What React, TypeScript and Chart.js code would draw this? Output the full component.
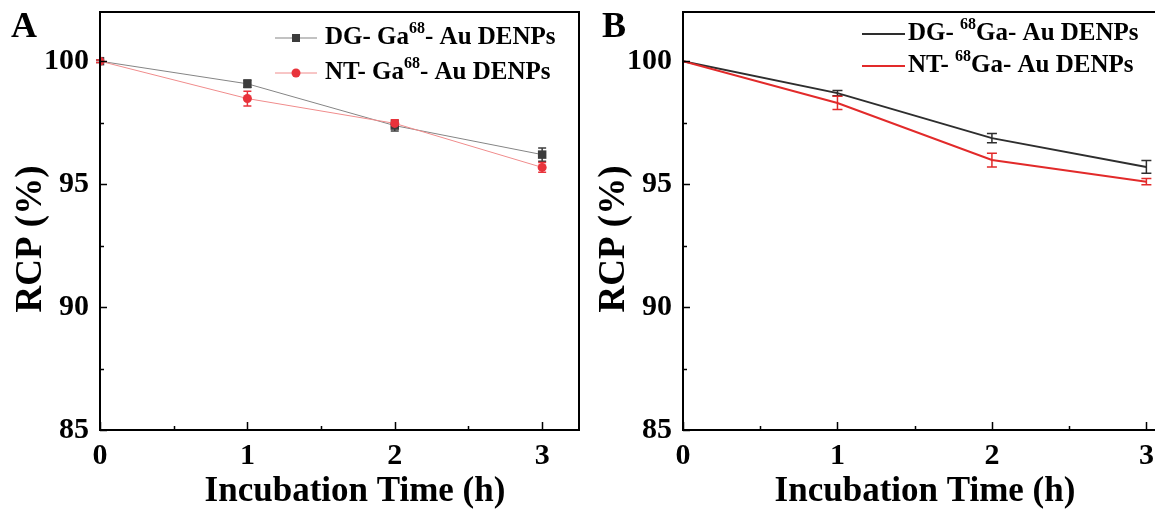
import React, { useEffect, useRef } from "react";
import { Chart, registerables } from "chart.js";

Chart.register(...registerables);

// ---------- data ----------
const times = [0, 1, 2, 3];
const xTickValues = [0, 1, 2, 3];
const xMinorValues = [0.5, 1.5, 2.5];
const yTickValues = [85, 90, 95, 100];
const yMinorValues = [87.5, 92.5, 97.5];

const aDG = [100, 99.08, 97.38, 96.2];
const aDGErr = [0.05, 0.15, 0.22, 0.27];
const aNT = [100, 98.48, 97.47, 95.68];
const aNTErr = [0.05, 0.3, 0.15, 0.2];

const bDG = [100, 98.7, 96.87, 95.7];
const bDGErr = [0, 0.11, 0.19, 0.26];
const bNT = [100, 98.3, 95.98, 95.1];
const bNTErr = [0, 0.27, 0.28, 0.13];

const xTitle = "Incubation Time (h)";
const yTitle = "RCP (%)";

type Seg = { t: string; sup?: boolean };
const legendA: Seg[][] = [
  [{ t: "DG- Ga" }, { t: "68", sup: true }, { t: "- Au DENPs" }],
  [{ t: "NT- Ga" }, { t: "68", sup: true }, { t: "- Au DENPs" }],
];
const legendB: Seg[][] = [
  [{ t: "DG- " }, { t: "68", sup: true }, { t: "Ga- Au DENPs" }],
  [{ t: "NT- " }, { t: "68", sup: true }, { t: "Ga- Au DENPs" }],
];

const FONT = '"Liberation Serif", "Times New Roman", serif';

type Panel = {
  letter: string;
  letterX: number;
  canvasLeft: number;
  canvasWidth: number;
  yWidth: number;
  padRight: number;
  markers: boolean;
  dg: number[];
  dgErr: number[];
  nt: number[];
  ntErr: number[];
  dgLine: string;
  dgPoint: string;
  ntLine: string;
  ntPoint: string;
  lineWidth: number;
  legend: Seg[][];
  legendLine: [number, number];
  legendTextX: number;
  legendRows: number[];
  capHalf: number;
  xTitleCenter: number;
  yTitleX: number;
};

const panels: Panel[] = [
  {
    letter: "A",
    letterX: 11,
    canvasLeft: 0,
    canvasWidth: 587,
    yWidth: 100,
    padRight: 8,
    markers: true,
    dg: aDG,
    dgErr: aDGErr,
    nt: aNT,
    ntErr: aNTErr,
    dgLine: "#858585",
    dgPoint: "#3c3c3c",
    ntLine: "#f08c8c",
    ntPoint: "#e8333b",
    lineWidth: 1,
    legend: legendA,
    legendLine: [275, 317],
    legendTextX: 325,
    legendRows: [38, 73],
    capHalf: 4,
    xTitleCenter: 355,
    yTitleX: 31,
  },
  {
    letter: "B",
    letterX: 22,
    canvasLeft: 580,
    canvasWidth: 613,
    yWidth: 103,
    padRight: 8,
    markers: false,
    dg: bDG,
    dgErr: bDGErr,
    nt: bNT,
    ntErr: bNTErr,
    dgLine: "#2e2e2e",
    dgPoint: "#2e2e2e",
    ntLine: "#e22a2a",
    ntPoint: "#e22a2a",
    lineWidth: 2,
    legend: legendB,
    legendLine: [282, 325],
    legendTextX: 328,
    legendRows: [34, 66],
    capHalf: 5,
    xTitleCenter: 345,
    yTitleX: 34,
  },
];

function PanelChart({ p }: { p: Panel }) {
  const ref = useRef<HTMLCanvasElement | null>(null);

  useEffect(() => {
    const canvas = ref.current;
    if (!canvas) return;

    const errorBars = {
      id: "errorBars",
      beforeDatasetsDraw(chart: any) {
        const ctx = chart.ctx;
        const xs = chart.scales.x;
        const ys = chart.scales.y;
        const sets = [
          { v: p.dg, e: p.dgErr, c: p.dgPoint },
          { v: p.nt, e: p.ntErr, c: p.ntPoint },
        ];
        ctx.save();
        ctx.lineWidth = 1.5;
        sets.forEach((s) => {
          ctx.strokeStyle = s.c;
          s.v.forEach((val, i) => {
            if (!s.e[i]) return;
            const x = xs.getPixelForValue(times[i]);
            const yt = ys.getPixelForValue(val + s.e[i]);
            const yb = ys.getPixelForValue(val - s.e[i]);
            ctx.beginPath();
            ctx.moveTo(x, yt);
            ctx.lineTo(x, yb);
            ctx.moveTo(x - p.capHalf, yt);
            ctx.lineTo(x + p.capHalf, yt);
            ctx.moveTo(x - p.capHalf, yb);
            ctx.lineTo(x + p.capHalf, yb);
            ctx.stroke();
          });
        });
        ctx.restore();
      },
    };

    const frame = {
      id: "frame",
      afterDraw(chart: any) {
        const ctx = chart.ctx;
        const a = chart.chartArea;
        const xs = chart.scales.x;
        const ys = chart.scales.y;
        ctx.save();
        ctx.strokeStyle = "#000";
        ctx.lineWidth = 2;
        ctx.strokeRect(a.left, a.top, a.right - a.left, a.bottom - a.top);
        ctx.lineWidth = 1.5;
        ctx.beginPath();
        xTickValues.forEach((v) => {
          const x = Math.round(xs.getPixelForValue(v)) + 0.5;
          ctx.moveTo(x, a.bottom);
          ctx.lineTo(x, a.bottom - 8);
        });
        xMinorValues.forEach((v) => {
          const x = Math.round(xs.getPixelForValue(v)) + 0.5;
          ctx.moveTo(x, a.bottom);
          ctx.lineTo(x, a.bottom - 4);
        });
        yTickValues.forEach((v) => {
          const y = Math.round(ys.getPixelForValue(v)) + 0.5;
          ctx.moveTo(a.left, y);
          ctx.lineTo(a.left + 7, y);
        });
        yMinorValues.forEach((v) => {
          const y = Math.round(ys.getPixelForValue(v)) + 0.5;
          ctx.moveTo(a.left, y);
          ctx.lineTo(a.left + 4, y);
        });
        ctx.stroke();

        ctx.fillStyle = "#000";
        // axis titles
        ctx.font = `bold 35px ${FONT}`;
        ctx.textAlign = "center";
        ctx.textBaseline = "alphabetic";
        ctx.fillText(xTitle, p.xTitleCenter, 501);
        ctx.save();
        ctx.translate(p.yTitleX, 239);
        ctx.rotate(-Math.PI / 2);
        ctx.font = `bold 37px ${FONT}`;
        ctx.textBaseline = "middle";
        ctx.fillText(yTitle, 0, 0);
        ctx.restore();

        // panel letter
        ctx.font = `bold 36px ${FONT}`;
        ctx.textBaseline = "alphabetic";
        ctx.textAlign = "left";
        ctx.fillText(p.letter, p.letterX, 37);

        // legend
        p.legend.forEach((segs, r) => {
          const y = p.legendRows[r];
          const color = r === 0 ? p.dgLine : p.ntLine;
          const pc = r === 0 ? p.dgPoint : p.ntPoint;
          ctx.strokeStyle = color;
          ctx.lineWidth = p.lineWidth;
          ctx.beginPath();
          ctx.moveTo(p.legendLine[0], y);
          ctx.lineTo(p.legendLine[1], y);
          ctx.stroke();
          if (p.markers) {
            const cx = (p.legendLine[0] + p.legendLine[1]) / 2;
            ctx.fillStyle = pc;
            if (r === 0) {
              ctx.fillRect(cx - 4, y - 4, 8, 8);
            } else {
              ctx.beginPath();
              ctx.arc(cx, y, 4.5, 0, Math.PI * 2);
              ctx.fill();
            }
          }
          let x = p.legendTextX;
          ctx.fillStyle = "#000";
          ctx.textBaseline = "middle";
          segs.forEach((s) => {
            if (s.sup) {
              ctx.font = `bold 16px ${FONT}`;
              ctx.fillText(s.t, x, y - 9);
            } else {
              ctx.font = `bold 25px ${FONT}`;
              ctx.fillText(s.t, x, y);
            }
            x += ctx.measureText(s.t).width;
          });
        });
        ctx.restore();
      },
    };

    const toPts = (arr: number[]) => arr.map((v, i) => ({ x: times[i], y: v }));

    const chart = new Chart(canvas, {
      type: "line",
      data: {
        datasets: [
          {
            label: "DG",
            data: toPts(p.dg),
            borderColor: p.dgLine,
            borderWidth: p.lineWidth,
            pointStyle: "rect",
            pointRadius: p.markers ? 6 : 0,
            pointBackgroundColor: p.dgPoint,
            pointBorderColor: p.dgPoint,
            pointBorderWidth: 0,
            tension: 0,
            order: 1,
          },
          {
            label: "NT",
            data: toPts(p.nt),
            borderColor: p.ntLine,
            borderWidth: p.lineWidth,
            pointStyle: "circle",
            pointRadius: p.markers ? 4.5 : 0,
            pointBackgroundColor: p.ntPoint,
            pointBorderColor: p.ntPoint,
            pointBorderWidth: 0,
            tension: 0,
            order: 0,
          },
        ],
      },
      options: {
        responsive: false,
        animation: false,
        devicePixelRatio: 1,
        layout: { padding: { top: 12, right: p.padRight, left: 0, bottom: 0 } },
        plugins: {
          legend: { display: false },
          tooltip: { enabled: false },
        },
        scales: {
          x: {
            type: "linear",
            min: 0,
            max: 3.25,
            afterBuildTicks: (s: any) => {
              s.ticks = xTickValues.map((v) => ({ value: v }));
            },
            afterFit: (s: any) => {
              s.height = 80;
              s.paddingLeft = 0;
              s.paddingRight = 0;
            },
            grid: { display: false, drawTicks: false },
            border: { display: false },
            ticks: {
              color: "#000",
              padding: 8,
              font: { family: FONT, size: 30, weight: "bold" },
              maxRotation: 0,
              callback: (v: any) => String(v),
            },
            title: { display: false },
          },
          y: {
            type: "linear",
            min: 85,
            max: 102,
            afterBuildTicks: (s: any) => {
              s.ticks = yTickValues.map((v) => ({ value: v }));
            },
            afterFit: (s: any) => {
              s.width = p.yWidth;
              s.paddingTop = 0;
              s.paddingBottom = 0;
            },
            grid: { display: false, drawTicks: false },
            border: { display: false },
            ticks: {
              color: "#000",
              padding: 11,
              font: { family: FONT, size: 30, weight: "bold" },
              callback: (v: any) => String(v),
            },
            title: { display: false },
          },
        },
      } as any,
      plugins: [errorBars, frame],
    });

    return () => chart.destroy();
  }, [p]);

  return (
    <canvas
      ref={ref}
      width={p.canvasWidth}
      height={510}
      style={{
        position: "absolute",
        left: p.canvasLeft,
        top: 0,
        width: p.canvasWidth,
        height: 510,
      }}
    />
  );
}

export default function App() {
  return (
    <div
      style={{
        position: "fixed",
        left: 0,
        top: 0,
        width: 1155,
        height: 510,
        overflow: "hidden",
        background: "#fff",
      }}
    >
      {panels.map((p) => (
        <PanelChart key={p.letter} p={p} />
      ))}
    </div>
  );
}
